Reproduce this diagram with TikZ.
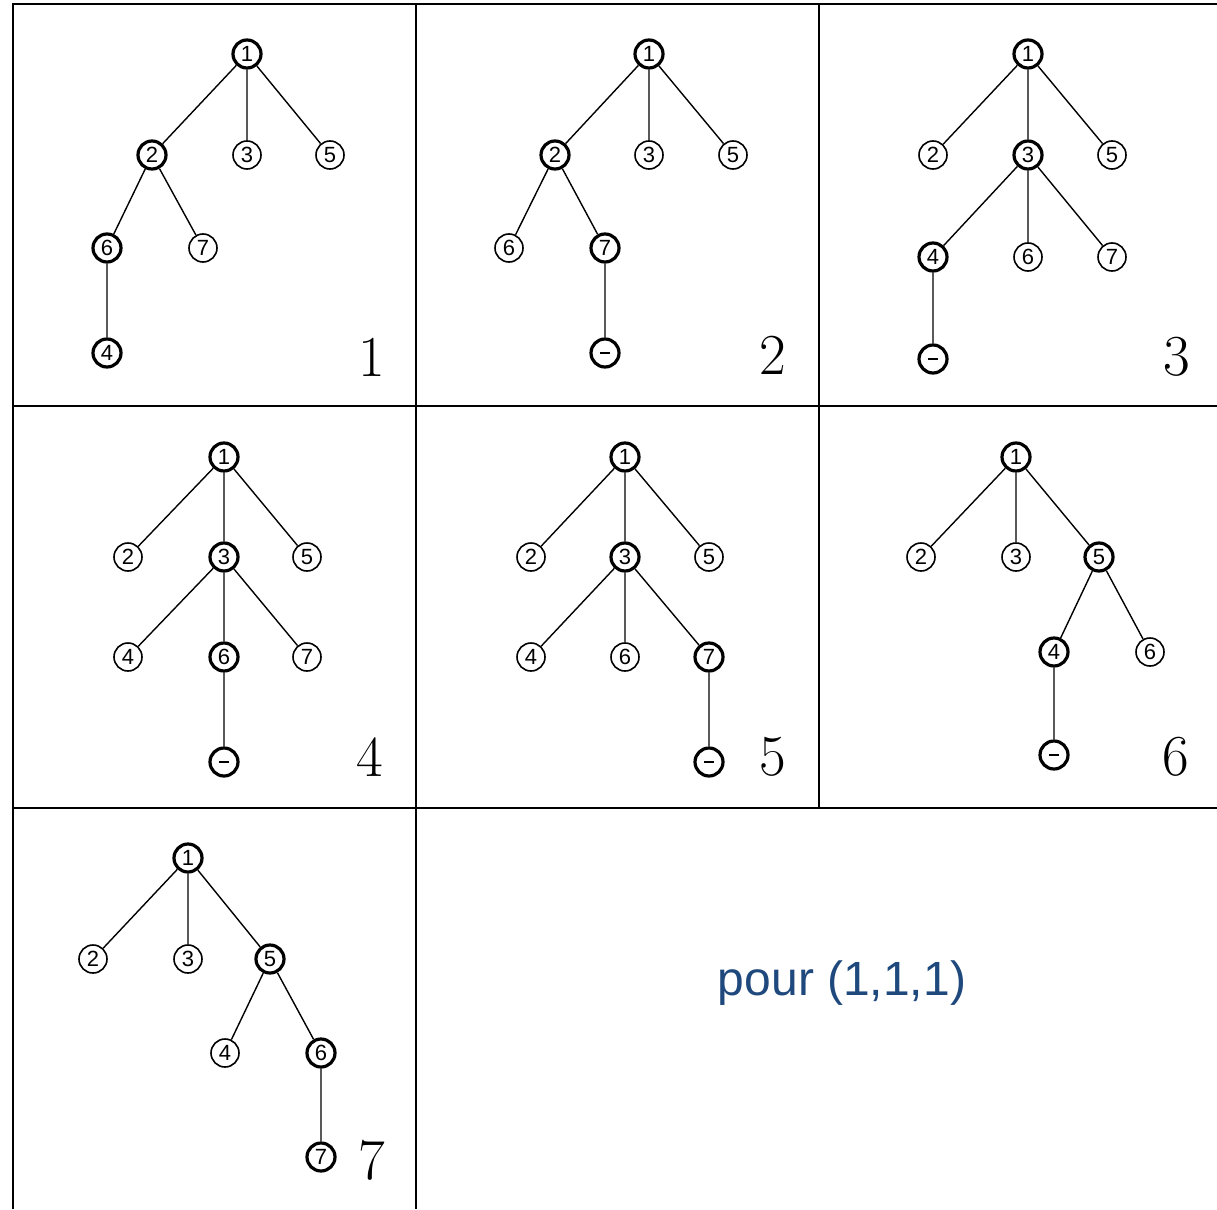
\documentclass[tikz,border=0pt]{standalone}
\usepackage{fontspec}
\newfontfamily\nodefont{Liberation Sans}
\definecolor{pourblue}{RGB}{31,73,125}
\newcommand{\minusbar}{\rule{10pt}{2.2pt}}
\begin{document}
\begin{tikzpicture}[x=1pt,y=-1pt,
  vtx/.style={circle,draw,line width=1.6pt,inner sep=0pt,minimum size=28pt,font=\nodefont\fontsize{22}{22}\selectfont},
  hot/.style={vtx,line width=3.2pt},
  edge/.style={line width=1.4pt},
  frame/.style={line width=2.4pt},
  plabel/.style={inner sep=0pt,font=\fontsize{58}{58}\selectfont}]
\useasboundingbox (0,0) rectangle (1217,1209);
% grid
\draw[frame] (13,1209) -- (13,4) -- (1217,4);
\draw[frame] (416,4) -- (416,1209);
\draw[frame] (819,4) -- (819,808);
\draw[frame] (13,406) -- (1217,406);
\draw[frame] (13,808) -- (1217,808);
% panel 1
\node[hot] (a1) at (247,54) {1};
\node[hot] (a2) at (152,155) {2};
\node[vtx] (a3) at (247,155) {3};
\node[vtx] (a5) at (330,155) {5};
\node[hot] (a6) at (107,248) {6};
\node[vtx] (a7) at (203,248) {7};
\node[hot] (a4) at (107,353) {4};
\draw[edge] (a1)--(a2) (a1)--(a3) (a1)--(a5) (a2)--(a6) (a2)--(a7) (a6)--(a4);
\node[plabel] (la) at (372,357) {1};
% panel 2
\node[hot] (b1) at (649,54) {1};
\node[hot] (b2) at (555,155) {2};
\node[vtx] (b3) at (649,155) {3};
\node[vtx] (b5) at (733,155) {5};
\node[vtx] (b6) at (509,248) {6};
\node[hot] (b7) at (605,248) {7};
\node[hot] (bm) at (605,353) {\minusbar};
\draw[edge] (b1)--(b2) (b1)--(b3) (b1)--(b5) (b2)--(b6) (b2)--(b7) (b7)--(bm);
\node[plabel] (lb) at (773,355) {2};
% panel 3
\node[hot] (c1) at (1028,54) {1};
\node[vtx] (c2) at (933,155) {2};
\node[hot] (c3) at (1028,155) {3};
\node[vtx] (c5) at (1112,155) {5};
\node[hot] (c4) at (933,257) {4};
\node[vtx] (c6) at (1028,257) {6};
\node[vtx] (c7) at (1112,257) {7};
\node[hot] (cm) at (933,359) {\minusbar};
\draw[edge] (c1)--(c2) (c1)--(c3) (c1)--(c5) (c3)--(c4) (c3)--(c6) (c3)--(c7) (c4)--(cm);
\node[plabel] (lc) at (1177,357) {3};
% panel 4
\node[hot] (d1) at (224,457) {1};
\node[vtx] (d2) at (128,557) {2};
\node[hot] (d3) at (224,557) {3};
\node[vtx] (d5) at (307,557) {5};
\node[vtx] (d4) at (128,657) {4};
\node[hot] (d6) at (224,657) {6};
\node[vtx] (d7) at (307,657) {7};
\node[hot] (dm) at (224,762) {\minusbar};
\draw[edge] (d1)--(d2) (d1)--(d3) (d1)--(d5) (d3)--(d4) (d3)--(d6) (d3)--(d7) (d6)--(dm);
\node[plabel] (ld) at (370,757) {4};
% panel 5
\node[hot] (e1) at (625,457) {1};
\node[vtx] (e2) at (531,557) {2};
\node[hot] (e3) at (625,557) {3};
\node[vtx] (e5) at (709,557) {5};
\node[vtx] (e4) at (531,657) {4};
\node[vtx] (e6) at (625,657) {6};
\node[hot] (e7) at (709,657) {7};
\node[hot] (em) at (709,762) {\minusbar};
\draw[edge] (e1)--(e2) (e1)--(e3) (e1)--(e5) (e3)--(e4) (e3)--(e6) (e3)--(e7) (e7)--(em);
\node[plabel] (le) at (773,757) {5};
% panel 6
\node[hot] (f1) at (1016,457) {1};
\node[vtx] (f2) at (921,557) {2};
\node[vtx] (f3) at (1016,557) {3};
\node[hot] (f5) at (1099,557) {5};
\node[hot] (f4) at (1054,652) {4};
\node[vtx] (f6) at (1150,652) {6};
\node[hot] (fm) at (1054,755) {\minusbar};
\draw[edge] (f1)--(f2) (f1)--(f3) (f1)--(f5) (f5)--(f4) (f5)--(f6) (f4)--(fm);
\node[plabel] (lf) at (1176,757) {6};
% panel 7
\node[hot] (g1) at (188,858) {1};
\node[vtx] (g2) at (93,959) {2};
\node[vtx] (g3) at (188,959) {3};
\node[hot] (g5) at (270,959) {5};
\node[vtx] (g4) at (225,1053) {4};
\node[hot] (g6) at (321,1053) {6};
\node[hot] (g7) at (321,1157) {7};
\draw[edge] (g1)--(g2) (g1)--(g3) (g1)--(g5) (g5)--(g4) (g5)--(g6) (g6)--(g7);
\node[plabel] (lg) at (372,1160) {7};
% caption
\node[text=pourblue,font=\nodefont\fontsize{48}{48}\selectfont] (pour) at (842,983) {pour (1,1,1)};
\end{tikzpicture}
\end{document}
